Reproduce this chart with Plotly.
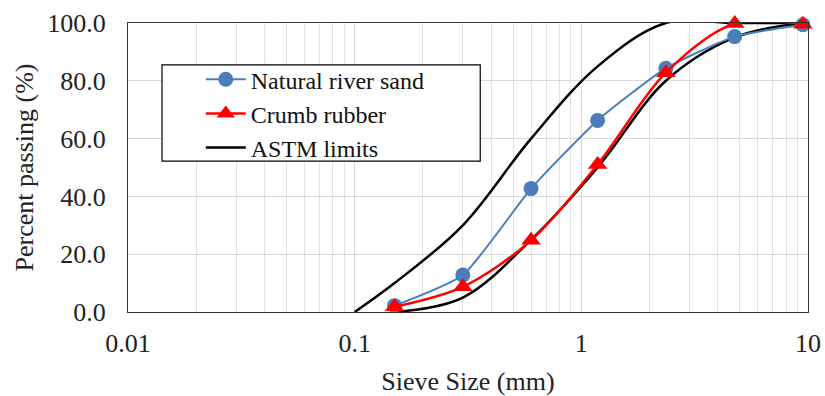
import plotly.graph_objects as go

sieve = [0.15, 0.3, 0.6, 1.18, 2.36, 4.75, 9.5]
sand = [2.2, 12.8, 42.7, 66.3, 84.3, 95.3, 99.4]
rubber = [1.8, 8.7, 24.8, 51.0, 82.8, 99.8, 99.6]

astm_upper_x = [0.1, 0.15, 0.3, 0.6, 1.18, 2.36, 4.75, 9.5]
astm_upper_y = [0, 10, 30, 60, 85, 100, 100, 100]
astm_lower_x = [0.15, 0.3, 0.6, 1.18, 2.36, 4.75, 9.5]
astm_lower_y = [0, 5, 25, 50, 80, 95, 100]

FONT = "Liberation Serif, Times New Roman, serif"

fig = go.Figure()
fig.add_trace(go.Scatter(x=astm_upper_x, y=astm_upper_y, mode="lines", name="ASTM limits",
                         line=dict(color="black", width=2.5, shape="spline"), showlegend=False,
                         legendrank=3))
fig.add_trace(go.Scatter(x=astm_lower_x, y=astm_lower_y, mode="lines", name="ASTM limits",
                         line=dict(color="black", width=2.5, shape="spline"), legendrank=3))
fig.add_trace(go.Scatter(x=sieve, y=sand, mode="lines+markers", name="Natural river sand",
                         line=dict(color="#4A7EBB", width=2, shape="spline", smoothing=0.55),
                         marker=dict(symbol="circle", size=15, color="#4A7EBB"),
                         cliponaxis=False, legendrank=1))
fig.add_trace(go.Scatter(x=sieve, y=rubber, mode="lines+markers", name="Crumb rubber",
                         line=dict(color="#FF0000", width=2.5, shape="spline", smoothing=0.9),
                         marker=dict(symbol="triangle-up", size=17, color="#FF0000"),
                         cliponaxis=False, legendrank=2))

# legend frame
fig.add_shape(type="rect", xref="paper", yref="paper",
              x0=0.05, x1=0.518, y0=0.522, y1=0.855,
              line=dict(color="black", width=1.2), fillcolor="white", layer="above")

fig.update_layout(
    width=825, height=396,
    margin=dict(l=128, r=17, t=23, b=84),
    paper_bgcolor="white", plot_bgcolor="white",
    font=dict(family=FONT, size=26, color="#222"),
    legend=dict(x=0.107, y=0.882, xanchor="left", yanchor="top",
                borderwidth=0, bgcolor="rgba(0,0,0,0)",
                font=dict(family=FONT, size=24, color="#111"),
                tracegroupgap=0, itemwidth=40),
)
fig.update_xaxes(type="log", range=[-2, 1], dtick=1, automargin=False,
                 showgrid=True, gridcolor="#D9D9D9", gridwidth=1,
                 minor=dict(dtick="D1", showgrid=True, gridcolor="#E3E3E3", gridwidth=1),
                 showline=True, linecolor="#333", linewidth=1.2, mirror=True,
                 ticks="", ticklabelstandoff=8,
                 title=dict(text="Sieve Size (mm)", font=dict(size=26), standoff=18),
                 tickfont=dict(size=26))
fig.update_yaxes(range=[0, 100], dtick=20, tickformat=".1f", automargin=False,
                 showgrid=True, gridcolor="#D9D9D9", gridwidth=1,
                 showline=True, linecolor="#333", linewidth=1.2, mirror=True,
                 ticks="", ticklabelstandoff=16, zeroline=False,
                 title=dict(text="Percent passing (%)", font=dict(size=26), standoff=6),
                 tickfont=dict(size=26))

fig.write_html("out.html", config={"displayModeBar": False},
               post_script="document.body.style.margin='0';")
